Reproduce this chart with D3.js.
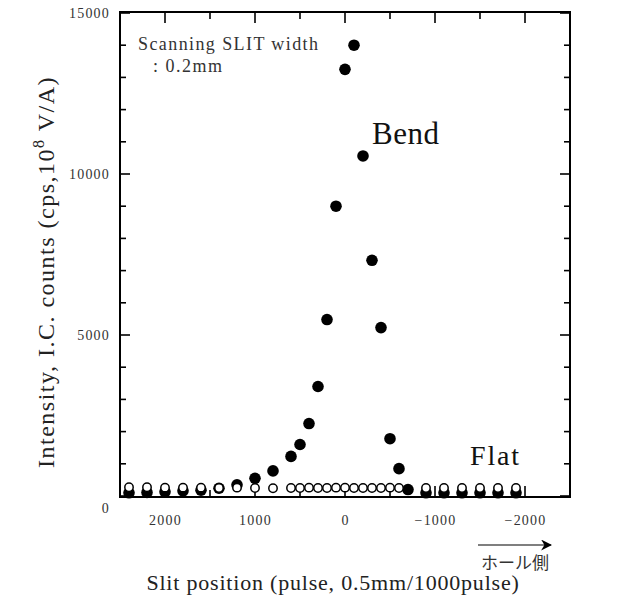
<!DOCTYPE html>
<html>
<head>
<meta charset="utf-8">
<script src="https://cdn.jsdelivr.net/npm/d3@7/dist/d3.min.js"></script>
<style>
  body { margin: 0; background: #fff; }
  svg { display: block; }
</style>
</head>
<body>
<svg id="chart"></svg>
<script>
// Bend (filled) series: slit position (pulse) and intensity
const bendX = [2400, 2200, 2000, 1800, 1600, 1400, 1200, 1000, 800, 600, 500, 400, 300, 200, 100, 0,
  -100, -200, -300, -400, -500, -600, -700, -900, -1100, -1300, -1500, -1700, -1900];
const bendY = [100, 110, 130, 160, 180, 240, 350, 550, 780, 1230, 1600, 2250, 3400, 5480, 9000, 13250,
  14000, 10560, 7320, 5230, 1780, 850, 200, 100, 100, 100, 100, 100, 100];
// Flat (open) series
const flatX = [2400, 2200, 2000, 1800, 1600, 1400, 1200, 1000, 800, 600, 500, 400, 300, 200, 100, 0,
  -100, -200, -300, -400, -500, -600, -900, -1100, -1300, -1500, -1700, -1900];
const flatY = [270, 270, 260, 260, 260, 250, 260, 250, 240, 250, 250, 260, 250, 250, 260, 260,
  250, 250, 250, 250, 260, 250, 250, 250, 250, 250, 250, 250];
// Tick labels
const xTickLabels = [2000, 1000, 0, -1000, -2000];
const yTickLabels = [0, 5000, 10000, 15000];

const W = 637, H = 597;
const pL = 120, pR = 570, pT = 12, pB = 497;

const svg = d3.select("#chart").attr("width", W).attr("height", H);

const x = d3.scaleLinear().domain([2500, -2500]).range([pL, pR]);
const y = d3.scaleLinear().domain([0, 15000]).range([pB - 1, pT + 1]);

const serif = "'Liberation Serif', 'DejaVu Serif', serif";
const fmt = d3.format("d");

// ticks every 1000 on y, longer at 5000; every 500 on x, longer at 1000
const yTicks = d3.range(0, 15001, 1000);
const xTicks = d3.range(-2500, 2501, 500);
const ySize = d => (d % 5000 === 0 ? 10 : 6);
const xSize = d => (d % 1000 === 0 ? 11 : 7);

function drawTicks(g, vals, sizeFn, fn) {
  g.selectAll("line").data(vals).join("line")
    .attr("stroke", "#000").attr("stroke-width", 1.6)
    .each(function(d) { fn(d3.select(this), d, sizeFn(d)); });
}

const ticks = svg.append("g");
drawTicks(ticks.append("g"), yTicks, ySize, (l, d, s) =>
  l.attr("x1", pL).attr("x2", pL + s).attr("y1", y(d)).attr("y2", y(d)));
drawTicks(ticks.append("g"), yTicks, ySize, (l, d, s) =>
  l.attr("x1", pR).attr("x2", pR - s).attr("y1", y(d)).attr("y2", y(d)));
drawTicks(ticks.append("g"), xTicks, xSize, (l, d, s) =>
  l.attr("x1", x(d)).attr("x2", x(d)).attr("y1", pT).attr("y2", pT + s));
drawTicks(ticks.append("g"), xTicks, xSize, (l, d, s) =>
  l.attr("x1", x(d)).attr("x2", x(d)).attr("y1", pB).attr("y2", pB - s));

// frame
svg.append("rect")
  .attr("x", pL).attr("y", pT)
  .attr("width", pR - pL).attr("height", pB - pT)
  .attr("fill", "none").attr("stroke", "#000").attr("stroke-width", 2);

// tick labels via axes (no tick marks)
const yAxis = svg.append("g")
  .attr("transform", `translate(${pL},0)`)
  .call(d3.axisLeft(y).tickValues(yTickLabels).tickFormat(fmt).tickSize(0).tickPadding(10));
yAxis.select(".domain").remove();
yAxis.selectAll("text")
  .attr("font-family", serif).attr("font-size", 14).attr("letter-spacing", 1.2)
  .attr("fill", "#333")
  .attr("dy", d => (d === 0 ? "1.2em" : "0.32em"));

const xAxis = svg.append("g")
  .attr("transform", `translate(0,${pB})`)
  .call(d3.axisBottom(x).tickValues(xTickLabels).tickFormat(fmt).tickSize(0).tickPadding(18));
xAxis.select(".domain").remove();
xAxis.selectAll("text")
  .attr("font-family", serif).attr("font-size", 14).attr("letter-spacing", 1.2)
  .attr("fill", "#333");

// data points
const bend = bendX.map((v, i) => ({ x: v, y: bendY[i] }));
const flat = flatX.map((v, i) => ({ x: v, y: flatY[i] }));

svg.append("g").selectAll("circle").data(bend).join("circle")
  .attr("cx", d => x(d.x)).attr("cy", d => y(d.y)).attr("r", 5.8)
  .attr("fill", "#000");

svg.append("g").selectAll("circle").data(flat).join("circle")
  .attr("cx", d => x(d.x)).attr("cy", d => y(d.y)).attr("r", 4.2)
  .attr("fill", "#fff").attr("stroke", "#000").attr("stroke-width", 1.5);

// annotations
svg.append("text").attr("x", 138).attr("y", 50)
  .attr("font-family", serif).attr("font-size", 18).attr("fill", "#333")
  .attr("textLength", 180).attr("lengthAdjust", "spacing")
  .text("Scanning SLIT width");
svg.append("text").attr("x", 153).attr("y", 72)
  .attr("font-family", serif).attr("font-size", 18).attr("fill", "#333")
  .attr("textLength", 69).attr("lengthAdjust", "spacing")
  .text(": 0.2mm");
svg.append("text").attr("x", 372).attr("y", 144)
  .attr("font-family", serif).attr("font-size", 31).attr("fill", "#111")
  .attr("textLength", 67).attr("lengthAdjust", "spacing")
  .text("Bend");
svg.append("text").attr("x", 470).attr("y", 465)
  .attr("font-family", serif).attr("font-size", 28).attr("fill", "#111")
  .attr("textLength", 49).attr("lengthAdjust", "spacing")
  .text("Flat");

// y axis title
const yt = svg.append("text")
  .attr("transform", "translate(54,272) rotate(-90)")
  .attr("text-anchor", "middle")
  .attr("font-family", serif).attr("font-size", 24).attr("letter-spacing", 1.5)
  .attr("fill", "#222");
yt.append("tspan").text("Intensity, I.C. counts (cps,10");
yt.append("tspan").attr("font-size", 16).attr("dy", -10).text("8");
yt.append("tspan").attr("dy", 10).text(" V/A)");

// x axis title
svg.append("text").attr("x", 333).attr("y", 590)
  .attr("text-anchor", "middle")
  .attr("font-family", serif).attr("font-size", 22).attr("letter-spacing", 0.8)
  .attr("fill", "#222")
  .text("Slit position (pulse, 0.5mm/1000pulse)");

// arrow toward hall side
svg.append("defs").append("marker")
  .attr("id", "ah").attr("viewBox", "0 0 10 10")
  .attr("refX", 9).attr("refY", 5)
  .attr("markerWidth", 11).attr("markerHeight", 11)
  .attr("markerUnits", "userSpaceOnUse")
  .attr("orient", "auto")
  .append("path").attr("d", "M0,0 L10,5 L0,10 L3,5 Z").attr("fill", "#000");
svg.append("line")
  .attr("x1", 478).attr("x2", 551).attr("y1", 545).attr("y2", 545)
  .attr("stroke", "#000").attr("stroke-width", 1.2)
  .attr("marker-end", "url(#ah)");
svg.append("text").attr("x", 549).attr("y", 569)
  .attr("text-anchor", "end")
  .attr("font-family", "'Noto Sans CJK JP', sans-serif").attr("font-size", 17).attr("fill", "#333")
  .text("ホール側");
</script>
</body>
</html>
